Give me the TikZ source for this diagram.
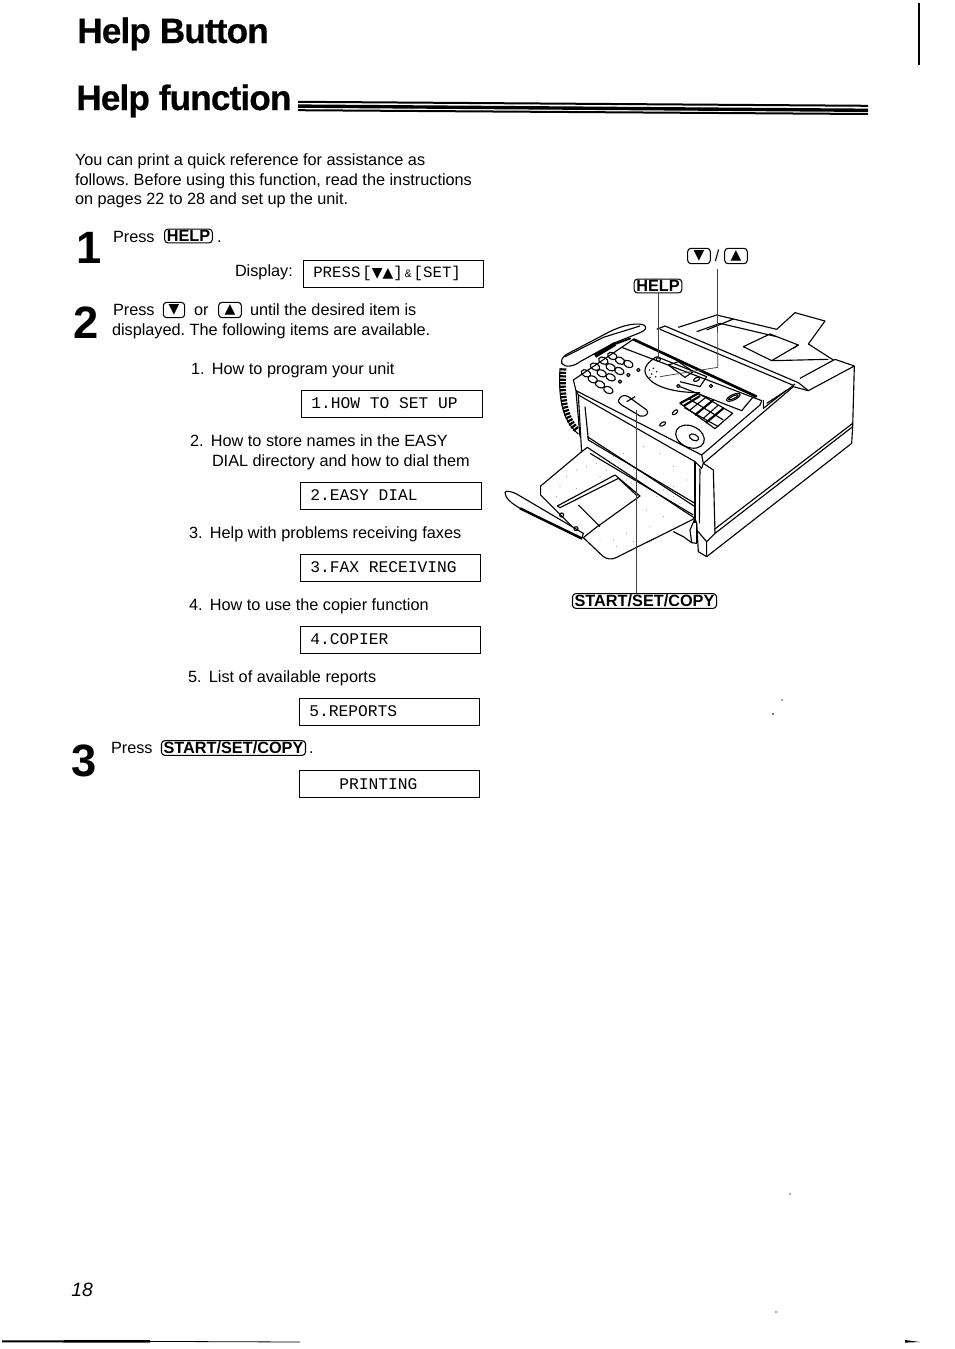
\documentclass[tikz,border=0pt]{standalone}
\usepackage{fontspec}
\setmainfont{Liberation Sans}
\newfontfamily\monof{Liberation Mono}
\newfontfamily\symf{DejaVu Sans}
\newfontfamily\titlef[FakeBold=0.5,LetterSpace=-2.5]{Liberation Sans Bold}
\usetikzlibrary{calc}
\tikzset{
  txt/.style={anchor=base west,inner sep=0pt,outer sep=0pt,font=\fontsize{12.2}{14}\selectfont\frenchspacing},
  bignum/.style={anchor=base west,inner sep=0pt,font=\fontsize{34}{34}\selectfont\bfseries},
  title/.style={anchor=base west,inner sep=0pt,font=\fontsize{26.4}{29}\titlef},
  lcd/.style={draw,line width=0.7pt,minimum height=20pt,anchor=north west,inner sep=0pt},
  lcdtxt/.style={anchor=base west,inner sep=0pt,font=\fontsize{12.2}{13}\monof},
  keycap/.style={draw,line width=0.8pt,rounded corners=2.5pt,inner xsep=1.6pt,inner ysep=1pt,font=\fontsize{12.2}{13}\selectfont\bfseries},
  arrowkey/.style={draw,line width=0.8pt,rounded corners=2.5pt,minimum width=17pt,minimum height=11.5pt,inner sep=0pt,font=\fontsize{10.5}{10.5}\symf},
  fx/.style={line width=0.85pt,line join=round},
  lead/.style={line width=0.55pt,black!75},
  speck/.style={fill=black!70,draw=none}
}
\begin{document}
\begin{tikzpicture}[x=0.75pt,y=-0.75pt]
\useasboundingbox (0,0) rectangle (954,1349);
% headings
\node[title] (t1) at (77,43) {Help Button};
\node[title] (t2) at (76,110) {Help function};
\fill (298,100.8) -- (868,104.8) -- (868,106.8) -- (298,102.8) -- cycle;
\fill (298,104.4) -- (868,108.6) -- (868,112) -- (298,107.8) -- cycle;
\fill (298,109.2) -- (868,113) -- (868,115) -- (298,111.2) -- cycle;
\draw[line width=0.8pt] (919,3) -- (919,65);
% intro
\node[txt] (p1) at (75,165) {You can print a quick reference for assistance as};
\node[txt] (p2) at (75,185) {follows. Before using this function, read the instructions};
\node[txt] (p3) at (75,204) {on pages 22 to 28 and set up the unit.};
% step 1
\node[bignum] (n1) at (76,263) {1};
\node[txt] (s1) at (113,242) {Press};
\node[keycap] (khelp) at (188.5,236) {HELP};
\node[txt] (s1b) at (217,242) {.};
\node[txt] (disp) at (235,276) {Display:};
\node[lcd,minimum width=135pt] (b0) at (303,260) {};
\node[anchor=base west,inner sep=0pt,font=\fontsize{11.8}{12}\monof] (b0t) at (313,277) {PRESS\hspace{1.5pt}[{\symf\fontsize{10.5}{10}\selectfont ▼▲}]\hspace{1.5pt}{\fontsize{8.5}{9}\selectfont\&}\hspace{1.5pt}[SET]};
% step 2
\node[bignum] (n2) at (73,338) {2};
\node[txt] (s2) at (113,315) {Press};
\node[arrowkey,minimum width=16pt] (kd) at (174,310) {▼};
\node[txt] (s2o) at (194,315) {or};
\node[arrowkey,minimum width=17pt] (ku) at (230,310) {▲};
\node[txt] (s2u) at (250,315) {until the desired item is};
\node[txt] (s2b) at (112,335) {displayed. The following items are available.};
% items
\node[txt] (i1) at (191,374) {1.\hspace{5.5pt}How to program your unit};
\node[lcd,minimum width=135.5pt] (b1) at (301,390) {};
\node[lcdtxt] at (311,408) {1.HOW TO SET UP};
\node[txt] (i2) at (190,446) {2.\hspace{5.5pt}How to store names in the EASY};
\node[txt] (i2b) at (212,466) {DIAL directory and how to dial them};
\node[lcd,minimum width=135.5pt] (b2) at (300,482) {};
\node[lcdtxt] at (310,500) {2.EASY DIAL};
\node[txt] (i3) at (189,538) {3.\hspace{5.5pt}Help with problems receiving faxes};
\node[lcd,minimum width=135pt] (b3) at (300,554) {};
\node[lcdtxt] at (310,572) {3.FAX RECEIVING};
\node[txt] (i4) at (189,610) {4.\hspace{5.5pt}How to use the copier function};
\node[lcd,minimum width=135pt] (b4) at (300,626) {};
\node[lcdtxt] at (310,644) {4.COPIER};
\node[txt] (i5) at (188,682) {5.\hspace{5.5pt}List of available reports};
\node[lcd,minimum width=135pt] (b5) at (299,698) {};
\node[lcdtxt] at (309,716) {5.REPORTS};
% step 3
\node[bignum] (n3) at (71,776) {3};
\node[txt] (s3) at (111,753) {Press};
\node[keycap] (kstart) at (233.5,748) {START/SET/COPY};
\node[txt] (s3b) at (309,753) {.};
\node[lcd,minimum width=135pt] (b6) at (299,770) {};
\node[lcdtxt] at (339,789) {PRINTING};
% footer
\node[anchor=base west,inner sep=0pt,font=\fontsize{14.5}{15}\selectfont\itshape] (pg) at (71,1296) {18};
\fill (2,1340.4) -- (150,1340) -- (150,1342.6) -- (2,1342.4) -- cycle;
\draw[line width=0.6pt] (150,1341.4) -- (300,1342);
\fill (905,1340) -- (920,1342) -- (905,1342.6) -- cycle;
% specks
\fill[speck] (773,714) circle (1.1);
\fill[speck] (782,700) circle (0.8);
\fill[speck] (790,1194) circle (0.8);
\fill[speck] (776,1312) circle (0.9);
% fax machine, in coordinates of a 3x enlargement
\begin{scope}[shift={(500,240)},x=0.25pt,y=-0.25pt]
 \begin{scope}[fx]
  \coordinate (helpbtn) at (475,358);
  \coordinate (dispbtn) at (480,410);
  \coordinate (dispcorner) at (653,382);
  \coordinate (startbtn) at (410,510);
  % document feeder
  \draw (535,262) -- (650,225) -- (700,237) -- (620,270);
  \draw (590,275) -- (660,250) -- (830,290) ;
  \draw (700,237) -- (830,268);
  \draw (830,268) -- (885,218) -- (975,243) -- (925,312);
  \draw (730,320) -- (810,282) -- (895,315) -- (815,362) -- cycle;
  \draw (925,312) -- (1000,360);
  \draw (895,315) -- (880,325);
  % top cover
  \draw (470,268) -- (495,258) -- (895,428);
  \draw (480,268) -- (880,436);
  \draw (815,362) -- (985,358);
  \draw (900,415) -- (1005,358) -- (1063,378);
  \draw (895,428) -- (925,452) -- (1063,378);
  % body right
  \draw (1063,378) -- (1058,560) -- (645,880);
  \draw (1058,560) -- (1055,610) -- (620,950);
  \draw (1058,550) -- (643,868);
  \draw (645,880) -- (620,905) -- (620,950) -- (595,935) -- (590,850);
  \draw (620,905) -- (590,870);
  \draw (610,670) -- (640,690) -- (645,880);
  \draw (610,670) -- (880,440) -- (925,452);
  \draw (790,480) -- (790,505) -- (860,450);
  \draw (800,490) -- (865,448) -- (885,432);
  % control panel
  \draw (220,420) -- (365,322) -- (785,482) -- (780,495) -- (605,645) -- (228,452) -- cycle;
  \draw (228,452) -- (235,465) -- (585,665) -- (605,685) -- (610,670) -- (605,645);
  \draw (585,665) -- (585,850);
  \draw (600,685) -- (598,850);
  \draw[line width=2pt] (400,298) -- (770,470);
  \draw (365,322) -- (400,298);
  \draw (760,470) -- (725,512) -- (540,440);
  % front
  \draw (235,465) -- (245,640);
  \draw (228,455) -- (240,590);
  \draw (255,500) -- (265,600) -- (585,790);
  \draw (262,590) -- (585,800);
  % handset
  \draw[fill=white] (185,370) .. controls (182,352) and (195,345) .. (215,335) -- (310,285) .. controls (350,262) and (400,245) .. (432,255) .. controls (442,262) and (437,272) .. (420,278) -- (340,310) -- (240,365) .. controls (225,378) and (195,385) .. (185,370) -- cycle;
  \draw (195,350) -- (310,292) -- (420,258);
  \draw[line width=3pt] (285,348) -- (345,312);
  \draw[line width=1.4pt] (345,312) -- (392,295);
  % cord
  \draw[line width=4.5pt,dash pattern=on 1.6pt off 1pt] (190,385) .. controls (185,460) and (190,530) .. (232,572);
  \draw (180,385) .. controls (175,470) and (185,540) .. (235,582);
  % keypad
  \foreach \kx/\ky in {258/400,285/380,310/362,337/348,278/418,305/400,332/382,360/362,300/433,332/412,358/393,385/372,325/450}
    \draw (\kx,\ky) ellipse[x radius=15,y radius=10,rotate=-25];
  \foreach \kx/\ky in {385/405,415/390,360/425,535/438,633/438}
    \draw (\kx,\ky) circle (5);
  % display area
  \draw (470,350) .. controls (445,365) and (425,385) .. (440,408) .. controls (460,440) and (520,458) .. (600,458);
  \draw (470,350) -- (620,410) -- (600,440) -- (540,425);
  \draw (helpbtn) circle (6);
  \draw (505,375) -- (535,365) -- (580,395) -- (555,412) -- cycle;
  \draw (590,418) ellipse[x radius=10,y radius=5,rotate=25];
  \foreach \kx/\ky in {448/390,460/385,470/395,455/402,467/410,450/412}
    \fill (\kx,\ky) circle (2.5);
  \draw (700,472) ellipse[x radius=22,y radius=8,rotate=25];
  \draw (700,472) ellipse[x radius=16,y radius=4,rotate=25];
  % grid
  \draw (540,490) -- (595,460) -- (698,520) -- (645,566) -- cycle;
  \draw[line width=1.6pt] (540,490) -- (595,460);
  \draw[line width=1.6pt] (552,497) -- (600,468);
  \draw[line width=1.6pt] (585,525) -- (640,480);
  \draw[line width=1.6pt] (618,548) -- (670,505);
  \draw (565,475) -- (670,540);
  \draw (553,503) -- (655,560);
  \draw (570,510) -- (620,470);
  \draw (610,535) -- (655,495);
  % dial and start button
  \draw (570,590) ellipse[x radius=45,y radius=32,rotate=-25];
  \draw (582,592) ellipse[x radius=15,y radius=9,rotate=-25];
  \draw (355,482) .. controls (360,468) and (372,462) .. (385,470) -- (440,510) .. controls (450,520) and (435,532) .. (420,528) -- (365,495) .. controls (358,490) and (355,486) .. (355,482) -- cycle;
  \draw (380,485) -- (405,470);
  \draw (525,517) ellipse[x radius=10,y radius=5,rotate=40];
  \draw (488,552) ellipse[x radius=10,y radius=5,rotate=30];
  % tray
  \draw[fill=white] (245,635) -- (122,738) -- (122,765) -- (165,808) -- (250,893) -- (308,948) .. controls (320,958) and (335,960) .. (350,952) -- (585,835) -- (262,622) -- cycle;
  \draw (270,640) -- (580,825);
  \draw (172,798) -- (345,705) -- (420,768) -- (285,865) -- (250,893);
  \draw (172,798) -- (180,803) -- (355,715) -- (412,768);
  \draw (235,795) -- (300,860);
  \draw (520,875) -- (550,890) -- (575,908);
  \draw (585,835) -- (570,870) -- (575,908) -- (590,910) -- (590,850) -- cycle;
  % flap
  \draw[fill=white] (15,757) .. controls (20,750) and (35,755) .. (50,762) -- (250,880) -- (245,897) -- (60,805) .. controls (35,790) and (15,775) .. (15,757) -- cycle;
  \draw[line width=1.8pt] (60,805) -- (245,895);
  \draw (185,825) circle (6);
  \draw (228,866) circle (6);
  % stipple
  \foreach \kx/\ky in {230/690,260/680,200/710,180/740,150/750,290/670,320/690,350/680,300/710,380/720,340/650,230/745,170/770,400/690,460/720,490/750,520/770,540/790,470/770,440/810,410/850,450/860,490/830,380/880,340/900,300/900,350/920,400/905,280/640,300/650,370/640,420/690,480/640,520/680,560/720,430/620,520/740,440/750}
    \fill[black!60] (\kx,\ky) circle (1.3);
 \end{scope}
\end{scope}
% callouts
\node[arrowkey] (fd) at (699,256) {▼};
\node[inner sep=0pt,font=\fontsize{12}{13}\selectfont] (fs) at (717,256) {/};
\node[arrowkey] (fu) at (736,256) {▲};
\node[keycap] (fhelp) at (658,286) {HELP};
\node[keycap] (fstart) at (644.5,601) {START/SET/COPY};
\draw[lead] (fhelp.south -| helpbtn) -- (helpbtn);
\coordinate (vtop) at (717.5,269);
\draw[lead] (vtop) -- (dispcorner) -- (dispbtn);
\draw[lead] (fstart.north -| startbtn) -- (startbtn);
\end{tikzpicture}
\end{document}
